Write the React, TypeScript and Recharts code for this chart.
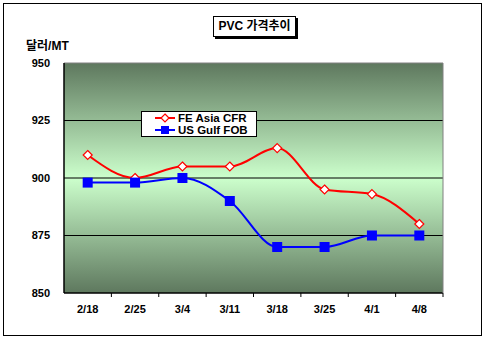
import React from 'react';
import { LineChart, Line, XAxis, YAxis, CartesianGrid, ReferenceLine } from 'recharts';

const weeks = ['2/18', '2/25', '3/4', '3/11', '3/18', '3/25', '4/1', '4/8'];
const feAsiaCfr = [910, 900, 905, 905, 913, 895, 893, 880];
const usGulfFob = [898, 898, 900, 890, 870, 870, 875, 875];
const yTicks = [850, 875, 900, 925, 950];

const data = weeks.map((w, i) => ({ week: w, fe: feAsiaCfr[i], us: usGulfFob[i] }));

const W = 485;
const H = 344;
const LEFT = 64;
const RIGHT = 42;
const PLOT_W = W - LEFT - RIGHT;
const HALF_BAND = PLOT_W / weeks.length / 2;
const FONT = '"Liberation Sans", Arial, "Noto Sans CJK KR", sans-serif';

const Diamond = (props: any) => {
  const { cx, cy } = props;
  if (cx == null || cy == null) return null;
  const r = 4.5;
  return (
    <polygon
      points={`${cx},${cy - r} ${cx + r},${cy} ${cx},${cy + r} ${cx - r},${cy}`}
      fill="#fff"
      stroke="#ff0000"
      strokeWidth={1.2}
    />
  );
};

const Square = (props: any) => {
  const { cx, cy } = props;
  if (cx == null || cy == null) return null;
  return <rect x={cx - 5} y={cy - 5} width={10} height={10} fill="#0000ff" />;
};

const XTick = (props: any) => {
  const { x, y, payload } = props;
  return (
    <g>
      <line x1={x + HALF_BAND} y1={y} x2={x + HALF_BAND} y2={y + 4} stroke="#000" />
      <text x={x} y={y + 20} textAnchor="middle" fontSize={11} fontWeight="bold" fontFamily={FONT} fill="#000">
        {payload.value}
      </text>
    </g>
  );
};

const series = [
  { key: 'fe', name: 'FE Asia CFR', color: '#ff0000', dot: Diamond },
  { key: 'us', name: 'US Gulf FOB', color: '#0000ff', dot: Square },
];

export default function App() {
  return (
    <div style={{ position: 'absolute', left: 0, top: 0, width: W, height: H, background: '#fff', fontFamily: FONT }}>
      <div style={{ position: 'absolute', left: 3, top: 3, width: 477, height: 331, border: '1px solid #000' }} />
      <LineChart
        width={W}
        height={H}
        data={data}
        margin={{ top: 63, right: 0, bottom: 21, left: 0 }}
        style={{ position: 'absolute', left: 0, top: 0 }}
      >
        <defs>
          <linearGradient id="bg" x1="0" y1="0" x2="0" y2="1">
            <stop offset="0%" stopColor="#5e785e" />
            <stop offset="50%" stopColor="#ccffcc" />
            <stop offset="100%" stopColor="#5e785e" />
          </linearGradient>
        </defs>
        <CartesianGrid
          vertical={false}
          horizontalValues={[875, 900, 925]}
          stroke="#000"
          strokeWidth={1}
          fill="url(#bg)"
          fillOpacity={1}
        />
        <ReferenceLine y={950} stroke="#808080" />
        <XAxis
          dataKey="week"
          height={30}
          padding={{ left: HALF_BAND, right: HALF_BAND }}
          axisLine={{ stroke: '#000', strokeWidth: 1.5 }}
          tickLine={false}
          tickSize={0}
          tickMargin={0}
          tick={<XTick />}
          interval={0}
        />
        <YAxis
          width={LEFT}
          domain={[850, 950]}
          ticks={yTicks}
          axisLine={{ stroke: '#000', strokeWidth: 1.5 }}
          tickLine={false}
          tickSize={0}
          tickMargin={14}
          tick={{ fontSize: 11, fontWeight: 'bold', fill: '#000', fontFamily: FONT }}
        />
        <YAxis
          yAxisId="r"
          orientation="right"
          width={RIGHT}
          tick={false}
          tickLine={false}
          axisLine={{ stroke: '#808080' }}
        />
        {series.map((s) => (
          <Line
            key={s.key}
            dataKey={s.key}
            name={s.name}
            type="monotone"
            stroke={s.color}
            strokeWidth={2}
            dot={<s.dot />}
            activeDot={false}
            isAnimationActive={false}
          />
        ))}
      </LineChart>
      <div
        style={{
          position: 'absolute',
          left: 213,
          top: 16,
          width: 81,
          height: 19,
          border: '1px solid #000',
          background: '#fff',
          boxShadow: '2px 2px 0 #000',
          fontSize: 12,
          fontWeight: 'bold',
          lineHeight: '19px',
          textAlign: 'center',
        }}
      >
        PVC 가격추이
      </div>
      <div style={{ position: 'absolute', left: 26, top: 36, fontSize: 12, fontWeight: 'bold' }}>달러/MT</div>
      <div
        style={{
          position: 'absolute',
          left: 141,
          top: 111,
          width: 114,
          height: 24,
          border: '1px solid #000',
          background: '#fff',
          fontSize: 11.5,
          fontWeight: 'bold',
          lineHeight: '12px',
        }}
      >
        {series.map((s) => (
          <div key={s.key} style={{ display: 'flex', alignItems: 'center', height: 12 }}>
            <svg width={22} height={12} style={{ marginLeft: 12, marginRight: 2 }}>
              <line x1={1} y1={6} x2={21} y2={6} stroke={s.color} strokeWidth={2} />
              {s.key === 'fe' ? (
                <polygon points="11,2 15,6 11,10 7,6" fill="#fff" stroke={s.color} strokeWidth={1.2} />
              ) : (
                <rect x={7} y={2} width={8} height={8} fill={s.color} />
              )}
            </svg>
            <span>{s.name}</span>
          </div>
        ))}
      </div>
    </div>
  );
}
